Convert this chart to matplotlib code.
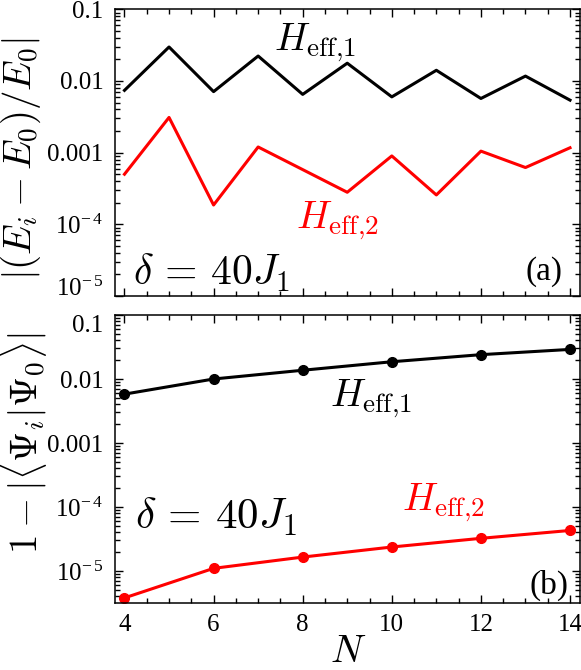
import matplotlib
matplotlib.use('Agg')
import matplotlib.pyplot as plt
from matplotlib.ticker import MultipleLocator, LogLocator, NullFormatter

plt.rcParams['font.family'] = 'serif'
plt.rcParams['font.serif'] = ['Liberation Serif', 'DejaVu Serif']
plt.rcParams['mathtext.fontset'] = 'cm'

# (a) relative energy error
N_a = [4, 5, 6, 7, 8, 9, 10, 11, 12, 13, 14]
err_h1 = [0.0074, 0.0298, 0.0071, 0.0223, 0.0065, 0.0177, 0.0060, 0.0141, 0.0057, 0.0117, 0.0054]
err_h2 = [5.0e-4, 3.1e-3, 1.86e-4, 1.2e-3, 5.8e-4, 2.8e-4, 9.0e-4, 2.57e-4, 1.05e-3, 6.2e-4, 1.17e-3]

# (b) infidelity
N_b = [4, 6, 8, 10, 12, 14]
inf_h1 = [5.8e-3, 1.0e-2, 1.37e-2, 1.86e-2, 2.4e-2, 2.9e-2]
inf_h2 = [3.8e-6, 1.1e-5, 1.65e-5, 2.37e-5, 3.24e-5, 4.3e-5]

yticks = [1e-5, 1e-4, 1e-3, 1e-2, 1e-1]
ytick_labels = [r'$\mathregular{10^{-\,5}}$', r'$\mathregular{10^{-\,4}}$', '0.001', '0.01', '0.1']
xticks = [4, 6, 8, 10, 12, 14]

W, H = 581, 670
fig = plt.figure(figsize=(W / 100, H / 100), dpi=100)

def px_axes(left, top, right, bottom):
    return fig.add_axes([left / W, 1 - bottom / H, (right - left) / W, (bottom - top) / H])

ax1 = px_axes(114.5, 9.3, 580, 296)
ax2 = px_axes(114.5, 315, 580, 603)

lw = 2.2
ax1.plot(N_a, err_h1, color='black', lw=lw)
ax1.plot(N_a, err_h2, color='#ff0000', lw=lw)
ax2.plot(N_b, inf_h1, color='black', lw=lw, marker='o', ms=7)
ax2.plot(N_b, inf_h2, color='#ff0000', lw=lw, marker='o', ms=7)

for ax in (ax1, ax2):
    ax.set_yscale('log')
    ax.set_xlim(3.776, 14.224)
    ax.set_yticks(yticks)
    ax.set_yticklabels(ytick_labels)
    ax.yaxis.set_minor_locator(LogLocator(base=10, subs=range(2, 10), numticks=20))
    ax.yaxis.set_minor_formatter(NullFormatter())
    ax.set_xticks(xticks)
    ax.xaxis.set_minor_locator(MultipleLocator(0.5))
    ax.tick_params(which='both', direction='in', top=True, right=True, width=1.0)
    ax.tick_params(which='major', length=6, labelsize=18, pad=8)
    ax.tick_params(which='minor', length=3.5)
    for s in ax.spines.values():
        s.set_linewidth(1.1)

ax1.set_ylim(1e-5, 0.1)
ax2.set_ylim(10 ** -5.5, 0.1)
ax1.tick_params(labelbottom=False)

# keep the 10^-5 of (a) and the 0.1 of (b) apart, as in the original
ax1.get_yticklabels()[0].set_va('baseline')
ax2.get_yticklabels()[-1].set_va('top')

# annotations
big = 28
h1 = r'$H_{\mathrm{eff}{,}1}$'
h2 = r'$H_{\mathrm{eff}{,}2}$'
dl = r'$\delta\,=\,40J_1$'
ax1.text(0.343, 0.858, h1, transform=ax1.transAxes, fontsize=big, va='baseline')
ax1.text(0.39, 0.236, h2, transform=ax1.transAxes, fontsize=big, va='baseline', color='#ff0000')
ax1.text(0.04, 0.038, dl, transform=ax1.transAxes, fontsize=30, va='baseline')
ax1.text(0.963, 0.056, '(a)', transform=ax1.transAxes, fontsize=24, ha='right', va='baseline')

ax2.text(0.463, 0.682, h1, transform=ax2.transAxes, fontsize=big, va='baseline')
ax2.text(0.618, 0.323, h2, transform=ax2.transAxes, fontsize=big, va='baseline', color='#ff0000')
ax2.text(0.044, 0.259, dl, transform=ax2.transAxes, fontsize=31, va='baseline')
ax2.text(0.975, 0.031, '(b)', transform=ax2.transAxes, fontsize=24, ha='right', va='baseline')

# axis labels
fig.text(21 / W, 1 - 159 / H, r'$|(E_i-E_0)/E_0|$', rotation=90, ha='center', va='center', fontsize=28)
fig.text(24 / W, 1 - 443 / H, r'$1-|\langle\Psi_i|\Psi_0\rangle|$', rotation=90, ha='center', va='center', fontsize=28)
fig.text(348 / W, 1 - 652 / H, r'$N$', ha='center', va='center', fontsize=28)

fig.savefig('out.png', dpi=100)
